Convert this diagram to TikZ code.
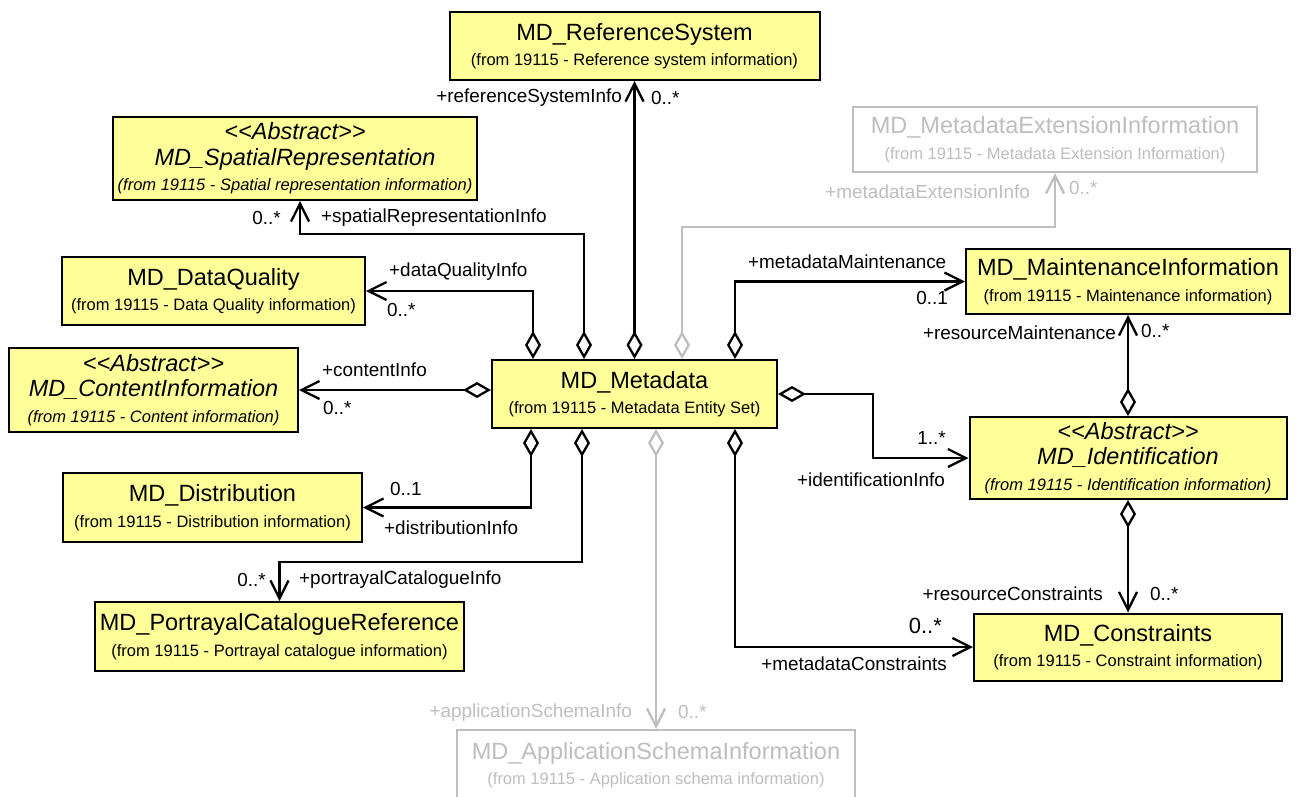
\documentclass[tikz,border=0pt]{standalone}
\usepackage{fontspec}
\setmainfont{Liberation Sans}
\usetikzlibrary{arrows.meta,positioning}
\definecolor{umlyellow}{RGB}{255,255,153}
\definecolor{umlgray}{RGB}{190,190,190}
\newcommand{\clsfont}{\fontsize{23.5}{25}\selectfont}
\newcommand{\pkgfont}{\fontsize{16.5}{25.5}\selectfont}
\newcommand{\rolefont}{\fontsize{18.9}{20}\selectfont}

\begin{document}
\begin{tikzpicture}[
        x=1pt, y=-1pt,
        box/.style={rectangle,draw=black,line width=2pt,fill=umlyellow,inner sep=0pt,align=center,font=\pkgfont},
        ghostbox/.style={box,draw=umlgray,fill=white,text=umlgray},
        role/.style={font=\rolefont,inner sep=0pt},
        ghostrole/.style={role,text=umlgray},
        agg/.style={line width=2.3pt,{Diamond[open,length=28pt,width=16pt]}-{Straight Barb[length=18pt,width=18pt]}},
        ghostagg/.style={agg,draw=umlgray}
    ]
        \useasboundingbox (0,0) rectangle (1297,796);

        % classes
        \node[box, minimum width=285pt, minimum height=68pt] (meta) at (634.5,394)
            {{\clsfont MD\_Metadata}\\{\pkgfont (from 19115 - Metadata Entity Set)}};
        \node[box, minimum width=370pt, minimum height=68pt] (refsys) at (634.5,46)
            {{\clsfont MD\_ReferenceSystem}\\{\pkgfont (from 19115 - Reference system information)}};
        \node[box, minimum width=364pt, minimum height=83pt] (spatial) at (295,158.5)
            {{\clsfont\itshape <{}<Abstract>{}>}\\{\clsfont\itshape MD\_SpatialRepresentation}\\{\pkgfont\itshape (from 19115 - Spatial representation information)}};
        \node[ghostbox, minimum width=404pt, minimum height=65pt] (ext) at (1055,139.5)
            {{\clsfont MD\_MetadataExtensionInformation}\\{\pkgfont (from 19115 - Metadata Extension Information)}};
        \node[box, minimum width=303pt, minimum height=68pt] (dq) at (213.5,291)
            {{\clsfont MD\_DataQuality}\\{\pkgfont (from 19115 - Data Quality information)}};
        \node[box, minimum width=324pt, minimum height=65pt] (maint) at (1128,281.5)
            {{\clsfont MD\_MaintenanceInformation}\\{\pkgfont (from 19115 - Maintenance information)}};
        \node[box, minimum width=289pt, minimum height=84pt] (content) at (153.5,390)
            {{\clsfont\itshape <{}<Abstract>{}>}\\{\clsfont\itshape MD\_ContentInformation}\\{\pkgfont\itshape (from 19115 - Content information)}};
        \node[box, minimum width=317pt, minimum height=82pt] (ident) at (1128,458)
            {{\clsfont\itshape <{}<Abstract>{}>}\\{\clsfont\itshape MD\_Identification}\\{\pkgfont\itshape (from 19115 - Identification information)}};
        \node[box, minimum width=299pt, minimum height=69pt] (dist) at (212.5,507.5)
            {{\clsfont MD\_Distribution}\\{\pkgfont (from 19115 - Distribution information)}};
        \node[box, minimum width=369pt, minimum height=69pt] (portrayal) at (279.5,636.5)
            {{\clsfont MD\_PortrayalCatalogueReference}\\{\pkgfont (from 19115 - Portrayal catalogue information)}};
        \node[box, minimum width=308pt, minimum height=67pt] (constr) at (1128,647)
            {{\clsfont MD\_Constraints}\\{\pkgfont (from 19115 - Constraint information)}};
        \node[ghostbox, minimum width=398pt, minimum height=70pt] (app) at (656,765)
            {{\clsfont MD\_ApplicationSchemaInformation}\\{\pkgfont (from 19115 - Application schema information)}};

        % aggregations
        \draw[agg] (meta.north) -- (refsys.south);
        \draw[agg] ([xshift=-50.5pt]meta.north) |- ([xshift=5pt,yshift=-33pt]spatial.south) -- ([xshift=5pt]spatial.south);
        \draw[agg] ([xshift=-101.5pt]meta.north) |- (dq.east);
        \draw[ghostagg] ([xshift=47.5pt]meta.north) |- ([yshift=-54pt]ext.south) -- (ext.south);
        \draw[agg] ([xshift=100.5pt]meta.north) |- (maint.west);
        \draw[agg] ([yshift=4pt]meta.west) -- (content.east);
        \draw[agg] (meta.east) -- ++(95,0) |- (ident.west);
        \draw[agg] ([xshift=-103.5pt]meta.south) |- (dist.east);
        \draw[agg] ([xshift=-52.5pt]meta.south) |- ([yshift=39pt]portrayal.north) -- (portrayal.north);
        \draw[ghostagg] ([xshift=21.5pt]meta.south) -- (app.north);
        \draw[agg] ([xshift=100.5pt]meta.south) |- (constr.west);
        \draw[agg] (ident.north) -- (ident.north |- maint.south);
        \draw[agg] (ident.south) -- (ident.south |- constr.north);

        % role names and multiplicities
        \node[role, anchor=east] (refsysrole) at (622,98) {+referenceSystemInfo};
        \node[role, anchor=west] (refsysmult) at (651,98) {0..*};
        \node[role, anchor=east] (spatialmult) at (281,218) {0..*};
        \node[role, anchor=west] (spatialrole) at (321,218) {+spatialRepresentationInfo};
        \node[role, anchor=west] (dqrole) at (389,272) {+dataQualityInfo};
        \node[role, anchor=west] (dqmult) at (387,310) {0..*};
        \node[ghostrole, anchor=east] (extrole) at (1030,192) {+metadataExtensionInfo};
        \node[ghostrole, anchor=west] (extmult) at (1069,188) {0..*};
        \node[role, anchor=west] (maintrole) at (748,262) {+metadataMaintenance};
        \node[role, anchor=east] (maintmult) at (948,298) {0..1};
        \node[role, anchor=east] (resmaintrole) at (1116,333) {+resourceMaintenance};
        \node[role, anchor=west] (resmaintmult) at (1141,331) {0..*};
        \node[role, anchor=west] (contentrole) at (322,370) {+contentInfo};
        \node[role, anchor=west] (contentmult) at (323,408) {0..*};
        \node[role, anchor=east] (identmult) at (946,438) {1..*};
        \node[role, anchor=east] (identrole) at (945,480) {+identificationInfo};
        \node[role, anchor=west] (distmult) at (390,489) {0..1};
        \node[role, anchor=west] (distrole) at (384,528) {+distributionInfo};
        \node[role, anchor=east] (portrayalmult) at (266,580) {0..*};
        \node[role, anchor=west] (portrayalrole) at (299,580) {+portrayalCatalogueInfo};
        \node[role, anchor=east] (resconstrrole) at (1103,594) {+resourceConstraints};
        \node[role, anchor=west] (resconstrmult) at (1150,594) {0..*};
        \node[role, anchor=east, font=\fontsize{22}{24}\selectfont] (constrmult) at (942,626) {0..*};
        \node[role, anchor=east] (constrrole) at (947,664) {+metadataConstraints};
        \node[ghostrole, anchor=east] (approle) at (632,713) {+applicationSchemaInfo};
        \node[ghostrole, anchor=west] (appmult) at (678,712) {0..*};
    \end{tikzpicture}
\end{document}
